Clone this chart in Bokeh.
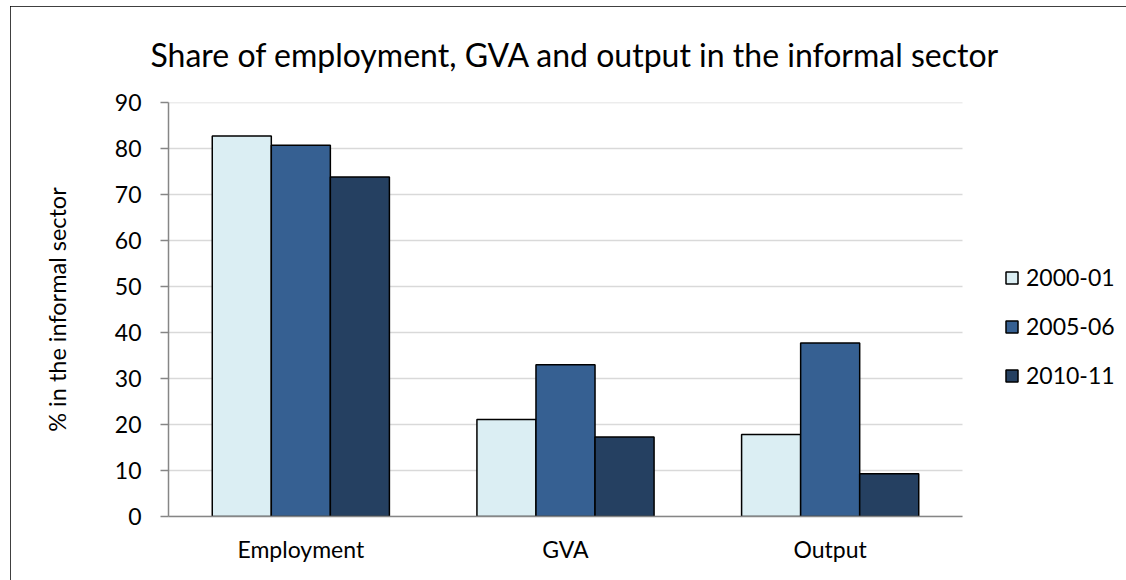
from bokeh.plotting import figure
from bokeh.models import Range1d, Legend, LegendItem, ColumnDataSource, FixedTicker
from bokeh.transform import dodge
from bokeh.embed import file_html
from bokeh.resources import INLINE

categories = ["Employment", "GVA", "Output"]
series_names = ["2000-01", "2005-06", "2010-11"]
values_2000_01 = [82.7, 21.1, 17.8]
values_2005_06 = [80.7, 33.0, 37.7]
values_2010_11 = [73.8, 17.3, 9.3]
y_ticks = [0, 10, 20, 30, 40, 50, 60, 70, 80, 90]
colors = ["#DBEEF3", "#366092", "#254061"]

FONT = "Lato"

cat_x = [k + 0.5 for k in range(len(categories))]
n_cat = len(categories)
source = ColumnDataSource(dict(x=cat_x, cat=categories, s0=values_2000_01, s1=values_2005_06, s2=values_2010_11))

# frame spans 168..1116 px on the page; categories occupy 168..962 px
x_end = n_cat * (1116 - 168) / (962 - 168)
p = figure(x_range=Range1d(0, x_end), y_range=Range1d(0, 90),
           width=1116, height=574, output_backend="svg", toolbar_location=None,
           min_border_left=158, min_border_right=10, min_border_top=96, min_border_bottom=64)
p.margin = (6, 0, 0, 10)
p.styles = {"outline": "2px solid black", "outline-offset": "-2px"}
p.outline_line_color = None
p.background_fill_color = "white"
p.border_fill_color = "white"

# horizontal gridlines across the category area only
p.xgrid.grid_line_color = None
p.ygrid.grid_line_color = None
p.segment(x0=[0] * len(y_ticks), x1=[n_cat] * len(y_ticks), y0=y_ticks, y1=y_ticks,
          line_color="#D9D9D9", line_width=1.5, level="underlay")

bw = 0.2231
renderers = []
for i, (col, name, color) in enumerate(zip(["s0", "s1", "s2"], series_names, colors)):
    r = p.vbar(x=dodge("x", (i - 1) * bw), top=col, width=bw, bottom=0,
               source=source, fill_color=color, line_color="black", line_width=1.5)
    renderers.append(r)

# Title
p.title.text = "Share of employment, GVA and output in the informal sector"
p.title.align = "left"
p.title.vertical_align = "top"
p.title.offset = -18
p.title.text_font = FONT
p.title.text_font_size = "32px"
p.title.text_font_style = "normal"
p.title.text_color = "black"
p.title.standoff = 54

# Y axis
p.yaxis.ticker = FixedTicker(ticks=y_ticks)
p.yaxis.axis_label = "% in the informal sector"
p.yaxis.axis_label_text_font = FONT
p.yaxis.axis_label_text_font_size = "23.5px"
p.yaxis.axis_label_text_font_style = "normal"
p.yaxis.axis_label_text_color = "black"
p.yaxis.axis_label_standoff = 41
p.yaxis.major_label_text_font = FONT
p.yaxis.major_label_text_font_size = "23px"
p.yaxis.major_label_text_color = "black"
p.yaxis.major_label_standoff = 19
p.yaxis.axis_line_color = "#868686"
p.yaxis.axis_line_width = 1.5
p.yaxis.major_tick_line_color = "#868686"
p.yaxis.major_tick_line_width = 1.5
p.yaxis.major_tick_out = 8
p.yaxis.major_tick_in = 0
p.yaxis.minor_tick_line_color = None

# X axis (category labels at category centres)
p.xaxis.ticker = FixedTicker(ticks=cat_x)
p.xaxis.major_label_overrides = {x: c for x, c in zip(cat_x, categories)}
p.xaxis.bounds = (0, n_cat)
p.xaxis.major_label_text_font = FONT
p.xaxis.major_label_text_font_size = "23px"
p.xaxis.major_label_text_color = "black"
p.xaxis.major_label_standoff = 18
p.xaxis.axis_line_color = "#868686"
p.xaxis.axis_line_width = 1.5
p.xaxis.major_tick_line_color = None
p.xaxis.minor_tick_line_color = None
p.xaxis.major_tick_out = 0
p.xaxis.major_tick_in = 0

# Legend
items = [LegendItem(label=n, renderers=[r]) for n, r in zip(series_names, renderers)]
legend = Legend(items=items, location=(836, 127))
legend.label_text_font = FONT
legend.label_text_font_size = "23px"
legend.label_text_color = "black"
legend.glyph_width = 15
legend.glyph_height = 15
legend.label_height = 26
legend.spacing = 21
legend.padding = 10
legend.margin = 0
legend.label_standoff = 7
legend.border_line_color = None
legend.background_fill_alpha = 0
p.add_layout(legend, "center")

open("out.html", "w").write(file_html(p, INLINE))
